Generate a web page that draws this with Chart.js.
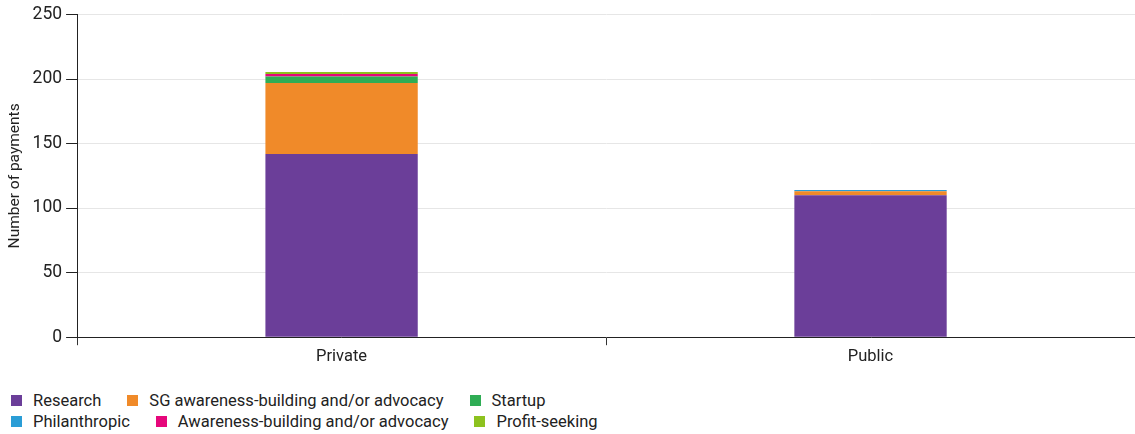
<!DOCTYPE html>
<html>
<head>
<meta charset="utf-8">
<script src="https://cdn.jsdelivr.net/npm/chart.js@4"></script>
<style>
  body { margin: 0; background: #fff; font-family: Roboto, "Liberation Sans", sans-serif; }
  #wrap { position: relative; width: 1135px; height: 369px; }
  #legend { margin: 21px 0 0 11px; font-size: 16.5px; color: #222; }
  #legend .row { display: flex; height: 21px; align-items: center; }
  #legend .item { display: flex; align-items: center; margin-right: 26px; }
  #legend .box { width: 11px; height: 11px; margin-right: 11px; }
</style>
</head>
<body>
<div id="wrap"><canvas id="chart"></canvas></div>
<div id="legend"></div>
<script>
const categories = ['Private', 'Public'];
const seriesNames = ['Research', 'SG awareness-building and/or advocacy', 'Startup',
                     'Philanthropic', 'Awareness-building and/or advocacy', 'Profit-seeking'];
const research = [142, 110];
const sgAwareness = [55, 3];
const startup = [5, 0];
const philanthropic = [0, 1];
const awareness = [2, 0];
const profitSeeking = [1.5, 0];
const yTicks = [0, 50, 100, 150, 200, 250];

const colors = ['#6b3e99', '#f08a29', '#2fad55', '#2a9dd6', '#e6077b', '#8dc21f'];
const values = [research, sgAwareness, startup, philanthropic, awareness, profitSeeking];

const chart = new Chart(document.getElementById('chart'), {
    type: 'bar',
    data: {
        labels: categories,
        datasets: seriesNames.map((name, i) => ({
            label: name,
            data: values[i],
            backgroundColor: colors[i],
            borderWidth: 0,
            barPercentage: 0.36,
            categoryPercentage: 0.8,
        })),
    },
    options: {
        responsive: true,
        maintainAspectRatio: false,
        animation: false,
        layout: { padding: { top: 8, right: 0, left: 6 } },
        plugins: {
            legend: { display: false },
            tooltip: { enabled: false },
        },
        scales: {
            x: {
                stacked: true,
                grid: { drawOnChartArea: false, tickLength: 8, color: '#333' },
                border: { color: '#222', width: 1 },
                ticks: { color: '#222', font: { family: 'Roboto', size: 16.5 }, padding: 2 },
            },
            y: {
                stacked: true,
                min: 0,
                max: 250,
                afterBuildTicks: (axis) => { axis.ticks = yTicks.map(v => ({ value: v })); },
                grid: { color: '#e6e6e6', tickColor: '#222', tickLength: 11 },
                border: { color: '#222', width: 1 },
                ticks: { color: '#222', font: { family: 'Roboto', size: 17.5 }, padding: 4 },
                title: {
                    display: true,
                    text: 'Number of payments',
                    color: '#222',
                    font: { family: 'Roboto', size: 15.5 },
                    padding: { top: 0, bottom: 4 },
                },
            },
        },
    },
});

// legend in two rows, built from the chart's datasets
const legendEl = document.getElementById('legend');
const rows = [[0, 1, 2], [3, 4, 5]];
rows.forEach(idx => {
    const row = document.createElement('div');
    row.className = 'row';
    idx.forEach(i => {
        const ds = chart.data.datasets[i];
        const item = document.createElement('div');
        item.className = 'item';
        item.innerHTML = '<span class="box" style="background:' + ds.backgroundColor + '"></span><span>' + ds.label + '</span>';
        row.appendChild(item);
    });
    legendEl.appendChild(row);
});
</script>
</body>
</html>
